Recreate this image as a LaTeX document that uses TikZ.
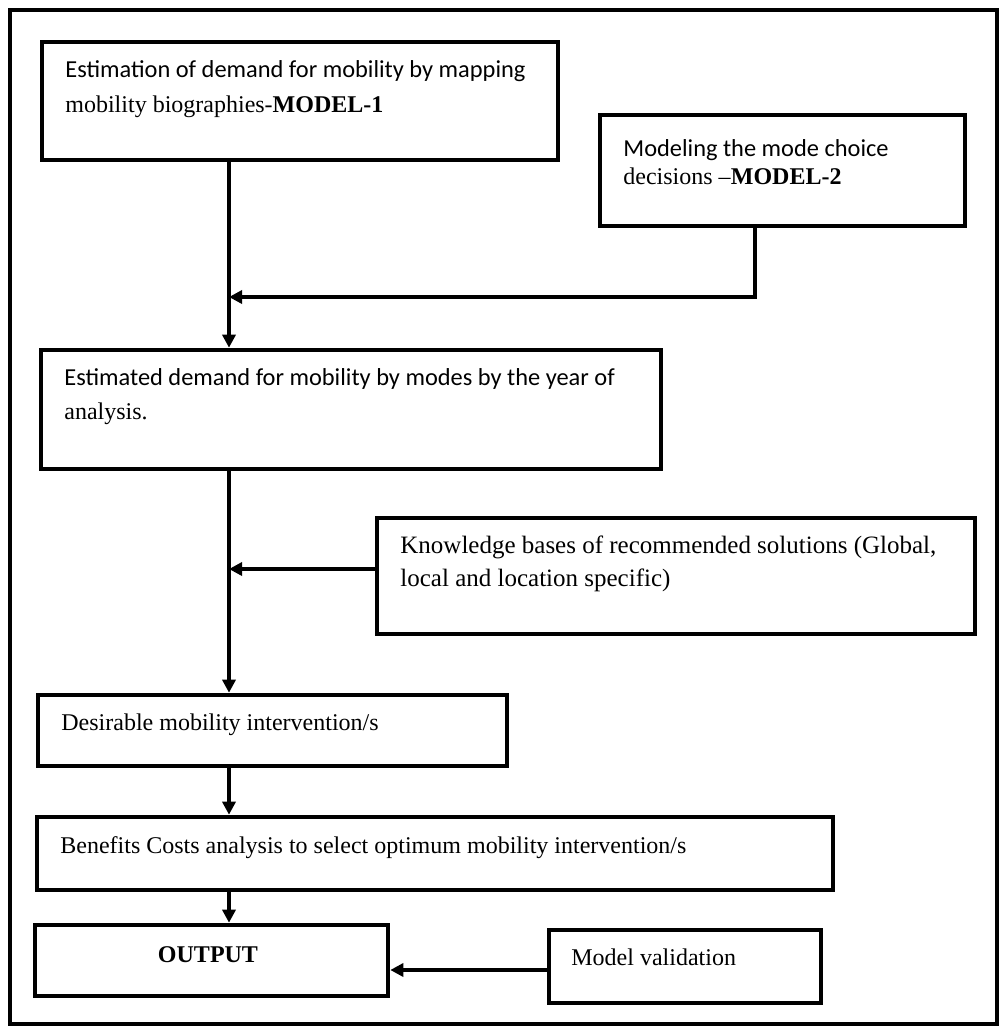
\documentclass[tikz,border=0pt]{standalone}
\usepackage{fontspec}
\setmainfont{Liberation Serif}
\newfontfamily\calibri{Carlito}
\usetikzlibrary{arrows.meta,positioning,fit}

\begin{document}
\begin{tikzpicture}[x=0.5pt,y=-0.5pt,
  box/.style={draw,line width=2.3pt,inner sep=0pt},
  txt/.style={inner sep=0pt,anchor=base west},
  calib/.style={font=\calibri\fontsize{12.2}{14}\selectfont},
  times/.style={font=\fontsize{12}{14}\selectfont},
  flow/.style={line width=2pt,-{Triangle[length=6.5pt,width=6.5pt]}}]
\useasboundingbox (0,0) rectangle (1006,1030);
\draw[line width=2pt] (10,10) rectangle (997,1024);
\coordinate (spine) at (229,0);
% boxes
\node[box,fit={(42,42) (558,160)}] (model1) {};
\node[box,fit={(600,115) (965,226)}] (model2) {};
\node[box,fit={(41,350) (661,469)}] (modes) {};
\node[box,fit={(377,518) (975,634)}] (knowledge) {};
\node[box,fit={(38,695) (507,766)}] (desirable) {};
\node[box,fit={(37,817) (833,890)}] (benefits) {};
\node[box,fit={(35,925) (388,996)}] (output) {};
\node[box,fit={(549,930) (821,1003)}] (validation) {};
% texts
\node[txt,calib] (model1a) at (65,77) {Estimation of demand for mobility by mapping};
\node[txt,times] (model1b) at (65,112) {mobility biographies-\textbf{MODEL-1}};
\node[txt,calib] (model2a) at (623,156) {Modeling the mode choice};
\node[txt,times] (model2b) at (623,184) {decisions --\textbf{MODEL-2}};
\node[txt,calib] (modesa) at (64,385) {Estimated demand for mobility by modes by the year of};
\node[txt,times] (modesb) at (64,419) {analysis.};
\node[txt,times,font=\fontsize{12.5}{14}\selectfont] (knowledgea) at (400,553)
  {Knowledge bases of recommended solutions (Global,};
\node[txt,times,font=\fontsize{12.5}{14}\selectfont] (knowledgeb) at (400,586)
  {local and location specific)};
\node[txt,times] (desirabletxt) at (61,730) {Desirable mobility intervention/s};
\node[txt,times] (benefitstxt) at (60,853)
  {Benefits Costs analysis to select optimum mobility intervention/s};
\node[txt,times,anchor=base] (outputtxt) at (208,962) {\textbf{OUTPUT}};
\node[txt,times] (validationtxt) at (571,965) {Model validation};
% connectors
\draw[flow] (model1.south -| spine) -- (modes.north -| spine);
\draw[flow] (model2.south -| 755,0) |- (spine |- 0,297);
\draw[flow] (modes.south -| spine) -- (desirable.north -| spine);
\draw[flow] (knowledge.west |- 0,569) -- (spine |- 0,569);
\draw[flow] (desirable.south -| spine) -- (benefits.north -| spine);
\draw[flow] (benefits.south -| spine) -- (output.north -| spine);
\draw[flow] (validation.west |- 0,970) -- (output.east |- 0,970);
\end{tikzpicture}
\end{document}
